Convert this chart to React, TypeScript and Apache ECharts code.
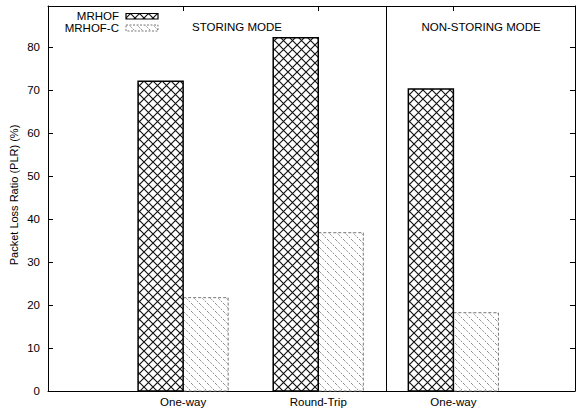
import React, { useEffect, useRef } from "react";
import * as echarts from "echarts";

const categories = ["One-way", "Round-Trip", "One-way"];
const seriesNames = ["MRHOF", "MRHOF-C"];
const mrhof = [72.0, 82.1, 70.2];
const mrhofC = [21.7, 36.8, 18.2];
const modeLabels = ["STORING MODE", "NON-STORING MODE"];
const separatorAt = [1.5];
const yTicks = [0, 10, 20, 30, 40, 50, 60, 70, 80];

const FONT = "'Liberation Sans', Arial, sans-serif";

const crossSvg =
  "data:image/svg+xml;charset=utf-8," +
  encodeURIComponent(
    "<svg xmlns='http://www.w3.org/2000/svg' width='9' height='9'><rect width='9' height='9' fill='#fff'/><path d='M0 0L9 9M9 0L0 9' stroke='#111' stroke-width='1.15'/></svg>"
  );
const hatchSvg =
  "data:image/svg+xml;charset=utf-8," +
  encodeURIComponent(
    "<svg xmlns='http://www.w3.org/2000/svg' width='8' height='8'><rect width='8' height='8' fill='#fff'/><path d='M0 0L8 8M-1 7L1 9M7 -1L9 1' stroke='#777' stroke-width='0.8' stroke-dasharray='2,1.3'/></svg>"
  );

const crossFill: any = { image: crossSvg, repeat: "repeat", imageWidth: 9, imageHeight: 9 };
const hatchFill: any = { image: hatchSvg, repeat: "repeat", imageWidth: 8, imageHeight: 8 };

export default function App() {
  const ref = useRef<HTMLDivElement>(null);
  useEffect(() => {
    if (!ref.current) return;
    const chart = echarts.init(ref.current, null, { renderer: "svg" });
    const barW = 1 / 3;
    const makeBar = (offset: number, style: any) => (params: any, api: any) => {
      const x = api.value(0);
      const v = api.value(1);
      const p1 = api.coord([x + offset, v]);
      const p2 = api.coord([x + offset + barW, 0]);
      return {
        type: "rect",
        shape: { x: p1[0], y: p1[1], width: p2[0] - p1[0], height: p2[1] - p1[1] },
        style,
      };
    };
    const axisLineStyle = { color: "#000", width: 1 };
    const line = { show: true, onZero: false, lineStyle: axisLineStyle };
    const tick = { show: true, inside: true, length: 5, lineStyle: axisLineStyle };
    const option: any = {
      animation: false,
      grid: { left: 48, right: 9, top: 6, bottom: 20, containLabel: false },
      xAxis: [
        {
          type: "value",
          min: -1,
          max: 2.9,
          interval: 1,
          position: "bottom",
          splitLine: { show: false },
          axisLine: line,
          axisTick: tick,
          axisLabel: {
            margin: 5,
            color: "#000",
            fontFamily: FONT,
            fontSize: 11.5,
            showMinLabel: true,
            showMaxLabel: true,
            formatter: (v: number) => {
              const i = Math.round(v);
              return Math.abs(v - i) < 1e-6 && i >= 0 && i < categories.length ? categories[i] : "";
            },
          },
        },
        {
          type: "value",
          min: -1,
          max: 2.9,
          interval: 1,
          position: "top",
          splitLine: { show: false },
          axisLine: line,
          axisTick: tick,
          axisLabel: { show: false },
        },
      ],
      yAxis: [
        {
          type: "value",
          min: 0,
          max: 89.5,
          interval: 10,
          position: "left",
          splitLine: { show: false },
          axisLine: line,
          axisTick: tick,
          axisLabel: {
            margin: 8,
            color: "#000",
            fontFamily: FONT,
            fontSize: 11.5,
            formatter: (v: number) => (yTicks.includes(Math.round(v)) && Math.abs(v - Math.round(v)) < 1e-6 ? String(v) : ""),
          },
        },
        {
          type: "value",
          min: 0,
          max: 89.5,
          interval: 10,
          position: "right",
          splitLine: { show: false },
          axisLine: line,
          axisTick: tick,
          axisLabel: { show: false },
        },
      ],
      series: [
        {
          name: seriesNames[0],
          type: "custom",
          xAxisIndex: 0,
          yAxisIndex: 0,
          data: mrhof.map((v, i) => [i, v]),
          renderItem: makeBar(-barW, { fill: crossFill, stroke: "#000", lineWidth: 1.5 }),
          z: 2,
        },
        {
          name: seriesNames[1],
          type: "custom",
          xAxisIndex: 0,
          yAxisIndex: 0,
          data: mrhofC.map((v, i) => [i, v]),
          renderItem: makeBar(0, { fill: hatchFill, stroke: "#777", lineWidth: 1, lineDash: [3, 2] }),
          z: 1,
        },
        {
          type: "custom",
          xAxisIndex: 0,
          yAxisIndex: 0,
          data: separatorAt.map((x) => [x, 0]),
          renderItem: (params: any, api: any) => {
            const x = api.value(0);
            const a = api.coord([x, 0]);
            const b = api.coord([x, 89.5]);
            return {
              type: "line",
              shape: { x1: Math.round(a[0]) + 0.5, y1: a[1], x2: Math.round(b[0]) + 0.5, y2: b[1] },
              style: { stroke: "#000", lineWidth: 1 },
            };
          },
        },
      ],
      graphic: [
        {
          type: "text",
          x: 14,
          y: 195,
          rotation: Math.PI / 2,
          style: {
            text: "Packet Loss Ratio (PLR) (%)",
            fontFamily: FONT,
            fontSize: 11,
            fill: "#000",
            align: "center",
            verticalAlign: "middle",
          },
        },
        {
          type: "text",
          x: 237,
          y: 27,
          style: { text: modeLabels[0], fontFamily: FONT, fontSize: 11.5, fill: "#000", align: "center", verticalAlign: "middle" },
        },
        {
          type: "text",
          x: 481,
          y: 27,
          style: { text: modeLabels[1], fontFamily: FONT, fontSize: 11.5, fill: "#000", align: "center", verticalAlign: "middle" },
        },
        {
          type: "text",
          x: 119,
          y: 16,
          style: { text: seriesNames[0], fontFamily: FONT, fontSize: 11.5, fill: "#000", align: "right", verticalAlign: "middle" },
        },
        {
          type: "rect",
          shape: { x: 126, y: 13.5, width: 32, height: 5.5 },
          style: { fill: crossFill, stroke: "#000", lineWidth: 1.2 },
        },
        {
          type: "text",
          x: 119,
          y: 28,
          style: { text: seriesNames[1], fontFamily: FONT, fontSize: 11.5, fill: "#000", align: "right", verticalAlign: "middle" },
        },
        {
          type: "rect",
          shape: { x: 126, y: 25, width: 32, height: 6 },
          style: { fill: hatchFill, stroke: "#777", lineWidth: 1, lineDash: [2, 1.5] },
        },
      ],
    };
    chart.setOption(option);
    return () => chart.dispose();
  }, []);
  return <div ref={ref} style={{ width: 584, height: 411, position: "absolute", left: 0, top: 0 }} />;
}
